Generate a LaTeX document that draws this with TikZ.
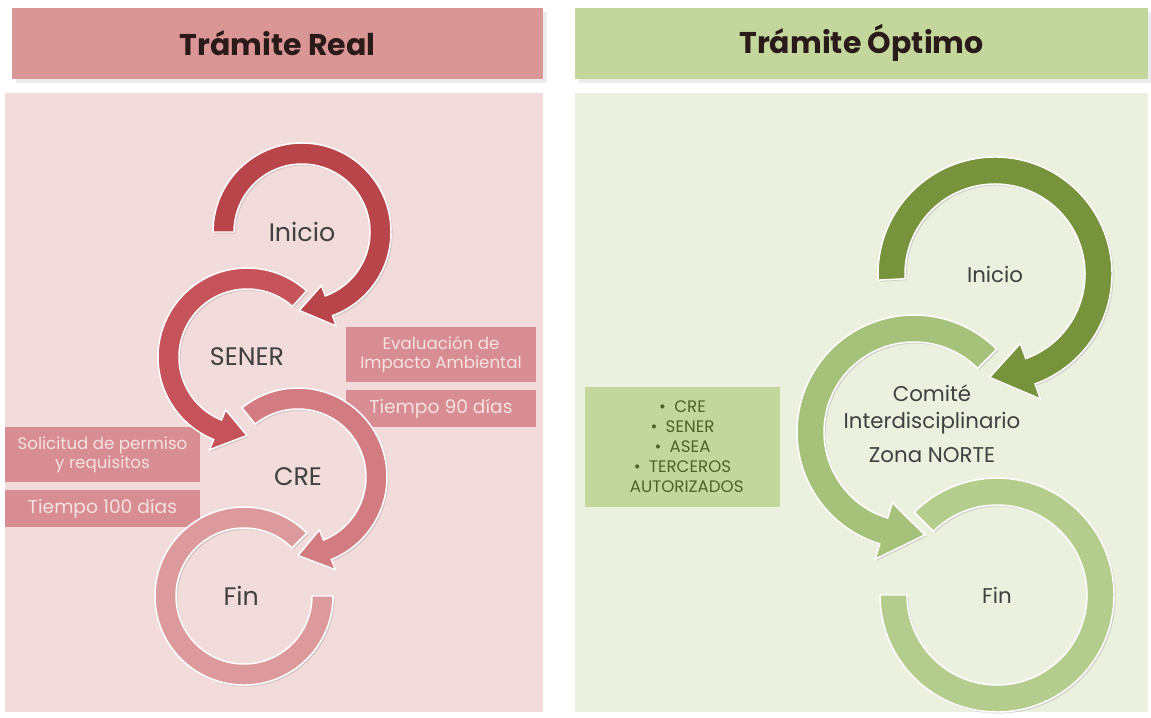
\documentclass[tikz,border=0pt]{standalone}
\usepackage{fontspec}
\setmainfont{Poppins}
\usetikzlibrary{shadows}

\definecolor{realhead}{HTML}{D99694}
\definecolor{realpanel}{HTML}{F2DCDB}
\definecolor{realtag}{HTML}{D88D92}
\definecolor{realtagtext}{HTML}{F7E1E1}
\definecolor{realA}{HTML}{B9454B}
\definecolor{realB}{HTML}{C65359}
\definecolor{realC}{HTML}{D27C82}
\definecolor{realD}{HTML}{DC9A9D}
\definecolor{opthead}{HTML}{C3D69B}
\definecolor{optpanel}{HTML}{EBF0DF}
\definecolor{opttag}{HTML}{C3D69B}
\definecolor{opttagtext}{HTML}{4F6228}
\definecolor{optA}{HTML}{77933C}
\definecolor{optB}{HTML}{A6C27A}
\definecolor{optC}{HTML}{B5CD8C}
\definecolor{titletext}{HTML}{2A1A1A}
\definecolor{ringtext}{HTML}{404040}

% ring arrow: centre, inner r, outer r, from, to, tip, wing, colour
\newcommand{\ringarrow}[8]{%
  \pgfmathsetmacro\rwo{#3+#7}\pgfmathsetmacro\rwi{#2-#7}%
  \pgfmathsetmacro\rmid{(#2+#3)/2}%
  \path[ring, fill=#8]
    ([shift={(#4:#3)}]#1.center) arc[start angle=#4, end angle=#5, radius=#3]
    -- ([shift={(#5:\rwo)}]#1.center)
    -- ([shift={(#6:\rmid)}]#1.center)
    -- ([shift={(#5:\rwi)}]#1.center)
    -- ([shift={(#5:#2)}]#1.center)
    arc[start angle=#5, end angle=#4, radius=#2] -- cycle;}
% ring band without head: centre, inner r, outer r, from, to, colour
\newcommand{\ringband}[6]{%
  \path[ring, fill=#6]
    ([shift={(#4:#3)}]#1.center) arc[start angle=#4, end angle=#5, radius=#3]
    -- ([shift={(#5:#2)}]#1.center)
    arc[start angle=#5, end angle=#4, radius=#2] -- cycle;}

\tikzset{
  ring/.style={draw=white, line width=1.1pt,
    drop shadow={opacity=0.25, shadow xshift=1.2pt, shadow yshift=-1.2pt}},
  headtitle/.style={font=\fontsize{22.5}{26}\selectfont\bfseries, text=titletext},
  ringlabel/.style={font=\fontsize{19}{23}\selectfont, text=ringtext, align=center},
  optlabel/.style={ringlabel, font=\fontsize{16}{20}\selectfont},
  tagbox/.style={fill=realtag, text=realtagtext, align=center, inner sep=0pt,
    minimum width=142.5pt, font=\fontsize{12.5}{14}\selectfont},
  timebox/.style={tagbox, minimum height=27.75pt, font=\fontsize{14}{16}\selectfont},
  listbox/.style={fill=opttag, text=opttagtext, align=center, inner sep=0pt,
    minimum width=146.25pt, minimum height=90pt, font=\fontsize{12.5}{15}\selectfont}
}

\begin{document}
\begin{tikzpicture}[x=0.75pt, y=0.75pt]
  \useasboundingbox[fill=white] (0,0) rectangle (1151,-717);

  % headers and panels
  \fill[realhead, drop shadow={opacity=0.15}] (12,-8) rectangle (543,-79);
  \fill[opthead, drop shadow={opacity=0.15}] (575,-8) rectangle (1148,-79);
  \fill[realpanel] (5,-93) rectangle (543,-712);
  \fill[optpanel] (575,-93) rectangle (1148,-712);
  \node[headtitle] (titleReal) at (277.5,-43) {Trámite Real};
  \node[headtitle] (titleOpt) at (861.5,-43) {Trámite Óptimo};

  % side tags
  \node[tagbox, minimum height=41.25pt] (tagEval) at (441,-354.5) {Evaluación de\\Impacto Ambiental};
  \node[timebox] (tag90) at (441,-408.5) {Tiempo 90 días};
  \node[tagbox, minimum width=146.25pt, minimum height=41.25pt] (tagSol) at (102.5,-454.5) {Solicitud de permiso\\y requisitos};
  \node[timebox, minimum width=146.25pt] (tag100) at (102.5,-508.5) {Tiempo 100 días};
  \node[listbox] (tagList) at (682.5,-447) {\textbullet\enspace CRE\\\textbullet\enspace SENER\\\textbullet\enspace ASEA\\\textbullet\enspace TERCEROS\\\enspace AUTORIZADOS};

  % ring centres
  \coordinate (cInicio) at (302,-232);
  \coordinate (cSener) at (247,-357);
  \coordinate (cCre) at (298,-477);
  \coordinate (cFin) at (244,-596);
  \coordinate (gInicio) at (995,-274);
  \coordinate (gComite) at (914,-432);
  \coordinate (gFin) at (997,-595);

  % real process rings
  \ringband{cFin}{68}{89}{45}{360}{realD}
  \ringarrow{cCre}{68}{89}{129}{-68}{-90}{11}{realC}
  \ringarrow{cSener}{68}{89}{48}{248}{270}{11}{realB}
  \ringarrow{cInicio}{68}{89}{180}{-70}{-92}{11}{realA}

  % optimal process rings
  \ringband{gFin}{90}{117}{135}{-180}{optC}
  \ringarrow{gComite}{90}{117}{45}{253}{276}{16}{optB}
  \ringarrow{gInicio}{90}{117}{183}{-70}{-93}{16}{optA}

  % ring labels
  \node[ringlabel] (lInicio) at (cInicio) {Inicio};
  \node[ringlabel] (lSener) at (cSener) {SENER};
  \node[ringlabel] (lCre) at (cCre) {CRE};
  \node[ringlabel] (lFin) at ([xshift=-2]cFin) {Fin};
  \node[optlabel] (gLInicio) at (gInicio) {Inicio};
  \node[optlabel] (gLComite) at (932,-424) {Comité\\Interdisciplinario\\[6pt]Zona NORTE};
  \node[optlabel] (gLFin) at (gFin) {Fin};
\end{tikzpicture}
\end{document}
